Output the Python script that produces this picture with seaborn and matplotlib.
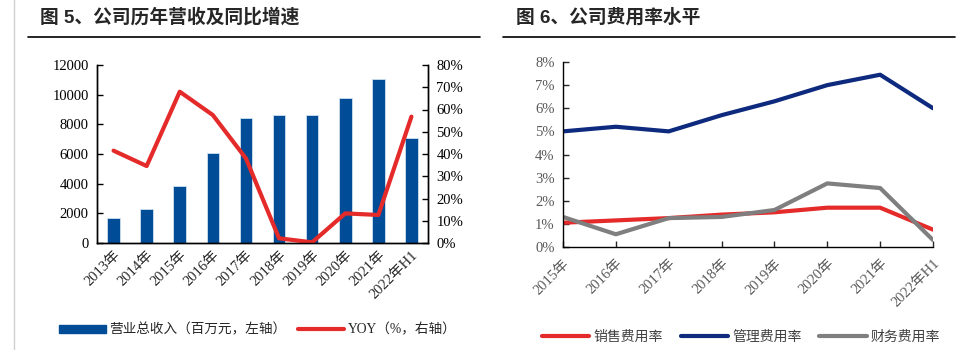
import numpy as np
import pandas as pd
import matplotlib.pyplot as plt
import seaborn as sns
from matplotlib.patches import Patch
from matplotlib.lines import Line2D

# data
years_rev = ['2013年', '2014年', '2015年', '2016年', '2017年', '2018年',
             '2019年', '2020年', '2021年', '2022年H1']
revenue = [1700, 2300, 3850, 6100, 8400, 8600, 8650, 9800, 11050, 7050]
yoy = [41.5, 34.6, 68.0, 57.5, 38.0, 2.1, 0.3, 13.3, 12.6, 56.8]

years_fee = ['2015年', '2016年', '2017年', '2018年', '2019年', '2020年',
             '2021年', '2022年H1']
sales_rate = [1.05, 1.15, 1.25, 1.4, 1.5, 1.7, 1.7, 0.75]
admin_rate = [5.0, 5.2, 5.0, 5.7, 6.3, 7.0, 7.45, 6.0]
fin_rate = [1.3, 0.55, 1.25, 1.3, 1.6, 2.75, 2.55, 0.3]

BLUE = '#004C97'
RED = '#E52A2A'
NAVY = '#0D2A7E'
GRAY = '#7F7F7F'

sns.set_style('white')
plt.rcParams['font.family'] = ['Liberation Serif', 'Noto Sans CJK SC', 'DejaVu Sans']
serif = ['Liberation Serif', 'Noto Sans CJK SC']

fig = plt.figure(figsize=(9.65, 3.5), dpi=100)

# page decorations: titles, rules and left border
fig.add_artist(Line2D([14 / 965, 14 / 965], [0, 1], color='#d0d0d0', lw=1))
fig.text(40 / 965, 1 - 17 / 350, '图 5、公司历年营收及同比增速', fontsize=13.5,
         fontweight='bold', family=['Liberation Sans', 'Noto Sans CJK SC'], va='center')
fig.text(516 / 965, 1 - 17 / 350, '图 6、公司费用率水平', fontsize=13.5,
         fontweight='bold', family=['Liberation Sans', 'Noto Sans CJK SC'], va='center')
fig.add_artist(Line2D([28 / 965, 480 / 965], [1 - 37 / 350] * 2, color='black', lw=1.2))
fig.add_artist(Line2D([503 / 965, 955 / 965], [1 - 37 / 350] * 2, color='black', lw=1.2))

# ---------- left chart: revenue bars + YOY line ----------
ax1 = fig.add_axes([97 / 965, 1 - 243 / 350, 331 / 965, 178 / 350])
df_rev = pd.DataFrame({'year': years_rev, 'revenue': revenue, 'yoy': yoy})
sns.barplot(data=df_rev, x='year', y='revenue', color=BLUE, width=0.38,
            edgecolor='#cfe0f0', linewidth=0.6, saturation=1, ax=ax1)
ax1.set_ylim(0, 12000)
ax1.set_yticks(np.arange(0, 12001, 2000))
ax1.set_xlim(-0.5, len(years_rev) - 0.5)
ax1.set_xlabel('')
ax1.set_ylabel('')

ax2 = ax1.twinx()
sns.lineplot(x=np.arange(len(years_rev)), y=df_rev['yoy'], color=RED, lw=3,
             ax=ax2)
ax2.set_ylim(0, 80)
ax2.set_yticks(np.arange(0, 81, 10))
ax2.set_yticklabels([f'{v}%' for v in range(0, 81, 10)])
ax2.set_ylabel('')
ax2.set_xlim(-0.5, len(years_rev) - 0.5)

for ax in (ax1, ax2):
    ax.spines['top'].set_visible(False)
    for s in ('left', 'right', 'bottom'):
        ax.spines[s].set_color('black')
        ax.spines[s].set_linewidth(1.0)
ax1.tick_params(axis='y', direction='in', length=4, width=1, labelsize=10.5,
                colors='black', left=True, pad=6)
ax2.tick_params(axis='y', direction='in', length=4, width=1, labelsize=10.5,
                colors='black', right=True, pad=6)
ax1.tick_params(axis='x', length=0, pad=4)
ax1.set_xticks(range(len(years_rev)))
ax1.set_xticklabels(years_rev, rotation=45, ha='right', rotation_mode='anchor',
                    fontsize=10.5, family=serif)
for lab in ax1.get_yticklabels() + ax2.get_yticklabels():
    lab.set_family(serif)

handles1 = [Patch(facecolor=BLUE, edgecolor=BLUE),
            Line2D([0], [0], color=RED, lw=3)]
fig.legend(handles1, ['营业总收入（百万元，左轴）', 'YOY（%，右轴）'],
           loc='center', bbox_to_anchor=(258 / 965, 1 - 330 / 350), ncol=2,
           frameon=False, handlelength=3.4, handleheight=0.55, columnspacing=0.8,
           handletextpad=0.3, prop={'family': serif, 'size': 9.8})

# ---------- right chart: expense ratios ----------
ax3 = fig.add_axes([563 / 965, 1 - 247 / 350, 370 / 965, 185 / 350])
df_fee = pd.DataFrame({
    'x': np.tile(np.arange(len(years_fee)), 3),
    'rate': sales_rate + admin_rate + fin_rate,
    'kind': ['销售费用率'] * len(years_fee) + ['管理费用率'] * len(years_fee)
            + ['财务费用率'] * len(years_fee),
})
palette = {'销售费用率': RED, '管理费用率': NAVY, '财务费用率': GRAY}
sns.lineplot(data=df_fee, x='x', y='rate', hue='kind', palette=palette,
             lw=3, legend=False, ax=ax3)
ax3.set_xlim(0, len(years_fee) - 1)
ax3.set_ylim(0, 8)
ax3.set_yticks(range(0, 9))
ax3.set_yticklabels([f'{v}%' for v in range(0, 9)])
ax3.set_xticks(range(len(years_fee)))
ax3.set_xticklabels(years_fee, rotation=45, ha='right', rotation_mode='anchor',
                    fontsize=10.5, family=serif, color='#595959')
for lab in ax3.get_yticklabels():
    lab.set_family(serif)
ax3.set_xlabel('')
ax3.set_ylabel('')
ax3.spines['top'].set_visible(False)
ax3.spines['right'].set_visible(False)
for s in ('left', 'bottom'):
    ax3.spines[s].set_color('black')
    ax3.spines[s].set_linewidth(1.0)
ax3.tick_params(axis='y', direction='in', length=4, width=1, left=True,
                labelsize=10.5, labelcolor='#595959', pad=6)
ax3.tick_params(axis='x', direction='in', length=4, width=1, bottom=True,
                labelsize=10.5, labelcolor='#595959', pad=7)

handles3 = [Line2D([0], [0], color=c, lw=3) for c in (RED, NAVY, GRAY)]
fig.legend(handles3, ['销售费用率', '管理费用率', '财务费用率'],
           loc='center', bbox_to_anchor=(741 / 965, 1 - 337 / 350), ncol=3,
           frameon=False, handlelength=3.4, columnspacing=1.3, handletextpad=0.3,
           labelcolor='#404040', prop={'family': serif, 'size': 10})

fig.savefig('out.png', dpi=100)
